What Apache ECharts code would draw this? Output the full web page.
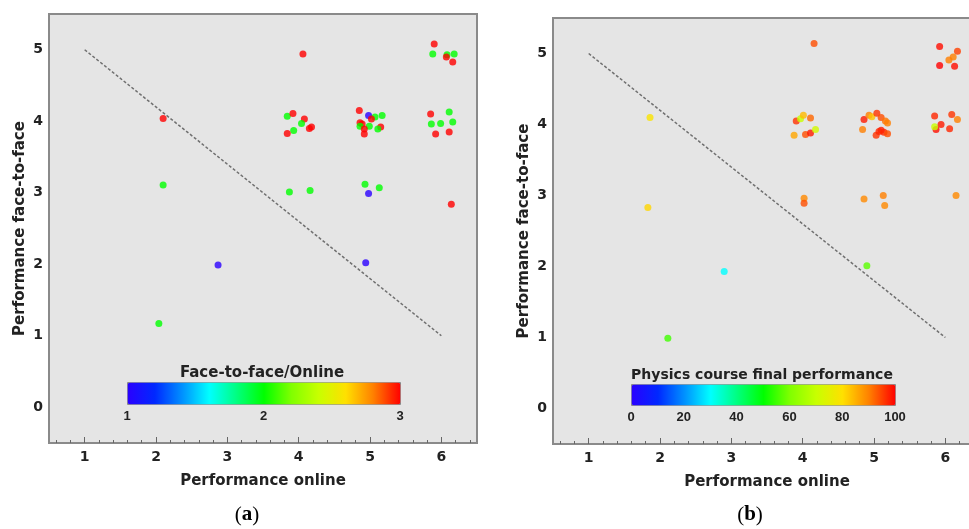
<!DOCTYPE html>
<html>
<head>
<meta charset="utf-8">
<title>Performance online vs face-to-face</title>
<script src="https://cdn.jsdelivr.net/npm/echarts@6.0.0/dist/echarts.min.js"></script>
<style>
  html, body { margin: 0; padding: 0; background: #fff; }
  #chart { width: 969px; height: 529px; }
</style>
</head>
<body>
<div id="chart"></div>
<script>
// (a) points: online, face-to-face, ratio face-to-face/online (1..3)
const leftOnline = [4.06, 5.90, 5.88, 6.08, 6.07, 6.18, 6.16,
  3.84, 3.92, 4.08, 4.04, 4.15, 4.18, 3.93, 3.84,
  4.85, 4.98, 5.07, 5.17, 5.02, 4.86, 4.89, 4.86, 4.99, 4.92, 4.92, 5.15, 5.11,
  5.85, 6.11, 5.86, 5.99, 6.16, 5.92, 6.11,
  3.87, 4.16, 4.93, 5.13, 4.98, 6.14,
  2.10, 2.10, 2.87, 2.04, 4.94]
const leftF2F = [4.94, 5.08, 4.94, 4.93, 4.90, 4.94, 4.83,
  4.07, 4.11, 4.03, 3.97, 3.90, 3.92, 3.87, 3.83,
  4.15, 4.08, 4.06, 4.08, 4.03, 3.98, 3.96, 3.93, 3.93, 3.89, 3.82, 3.92, 3.89,
  4.10, 4.13, 3.96, 3.97, 3.99, 3.82, 3.85,
  3.01, 3.03, 3.12, 3.07, 2.99, 2.84,
  4.04, 3.11, 1.99, 1.17, 2.02]
const leftRatio = [3, 3, 2, 2, 3, 2, 3,
  2, 3, 3, 2, 3, 3, 2, 3,
  3, 1, 2, 2, 3, 3, 3, 2, 2, 3, 3, 3, 2,
  3, 2, 2, 2, 2, 3, 3,
  2, 2, 2, 2, 1, 3,
  3, 2, 1, 2, 1]

// (b) points: online, face-to-face, physics final performance (0..100)
const rightOnline = [4.16, 5.92, 6.17, 6.11, 6.05, 5.92, 6.13,
  3.91, 3.97, 4.01, 4.11, 3.88, 4.04, 4.11, 4.18,
  4.86, 4.93, 4.97, 5.04, 5.10, 5.16, 5.19, 4.84, 5.10, 5.14, 5.03, 5.19, 5.07,
  5.85, 6.09, 6.17, 5.87, 5.85, 5.94, 6.06,
  4.02, 4.02, 4.86, 5.13, 5.15, 6.15,
  1.86, 1.83, 2.90, 2.11, 4.90]
const rightF2F = [5.14, 5.10, 5.03, 4.95, 4.91, 4.83, 4.82,
  4.05, 4.08, 4.13, 4.09, 3.85, 3.86, 3.88, 3.93,
  4.07, 4.13, 4.11, 4.16, 4.10, 4.05, 4.02, 3.93, 3.92, 3.89, 3.85, 3.87, 3.90,
  4.12, 4.14, 4.07, 3.93, 3.97, 4.00, 3.94,
  2.96, 2.89, 2.95, 3.00, 2.86, 3.00,
  4.10, 2.83, 1.93, 0.99, 2.01]
const rightFinal = [94, 99, 95, 90, 90, 100, 99,
  96, 70, 84, 92, 86, 94, 98, 72,
  98, 90, 83, 96, 94, 91, 90, 90, 98, 97, 96, 94, 97,
  97, 96, 90, 99, 70, 98, 97,
  89, 94, 89, 90, 89, 89,
  79, 81, 30, 55, 57]

// reference line from (1,5) to (6,1)
const diagLine = [[1, 5], [6, 1]]

const axisTicks = [1, 2, 3, 4, 5, 6]
const yTicks = [0, 1, 2, 3, 4, 5]
const minorTicks = []
for (let i = 3; i <= 32; i++) {
  if (i % 5 !== 0) minorTicks.push(Math.round(i * 20) / 100)
}
const ratioTicks = [1, 2, 3]
const finalTicks = [0, 20, 40, 60, 80, 100]

const jet = ['#2a00ff', '#0028ff', '#0090ff', '#00ffff', '#00ff80', '#00ff00',
  '#80ff00', '#c8ff00', '#ffe000', '#ff8000', '#ff0000']

const ink = '#222'
const font = 'DejaVu Sans'

const chart = echarts.init(document.getElementById('chart'))

function mainX(grid) {
  return {
    type: 'value', gridIndex: grid, min: 0.5, max: 6.5,
    axisLine: { show: false, onZero: false },
    splitLine: { show: false },
    axisTick: { inside: true, length: 6, customValues: axisTicks, lineStyle: { color: '#666', width: 1 } },
    axisLabel: { customValues: axisTicks, margin: 7, color: ink, fontWeight: 'bold', fontSize: 14, fontFamily: font },
    name: 'Performance online', nameLocation: 'middle', nameGap: 31,
    nameTextStyle: { color: ink, fontWeight: 'bold', fontSize: 15, fontFamily: font }
  }
}
function minorX(grid) {
  return {
    type: 'value', gridIndex: grid, min: 0.5, max: 6.5,
    axisLine: { show: false, onZero: false }, splitLine: { show: false },
    axisLabel: { show: false },
    axisTick: { inside: true, length: 3, customValues: minorTicks, lineStyle: { color: '#666', width: 1 } }
  }
}
function mainY(grid) {
  return {
    type: 'value', gridIndex: grid, min: -0.5, max: 5.5,
    axisLine: { show: false, onZero: false }, splitLine: { show: false },
    axisTick: { show: false },
    axisLabel: { customValues: yTicks, margin: 6, color: ink, fontWeight: 'bold', fontSize: 14, fontFamily: font },
    name: 'Performance face-to-face', nameLocation: 'middle', nameGap: 21,
    nameTextStyle: { color: ink, fontWeight: 'bold', fontSize: 15, fontFamily: font }
  }
}
function hiddenY(grid) {
  return { type: 'value', gridIndex: grid, min: 0, max: 1, show: false }
}
function barX(grid, lo, hi, ticks, inner) {
  return {
    type: 'value', gridIndex: grid, min: lo, max: hi,
    axisLine: { show: false, onZero: false }, splitLine: { show: false },
    axisTick: { inside: true, length: 3, customValues: inner, lineStyle: { color: '#555' } },
    axisLabel: { customValues: ticks, margin: 6, color: ink, fontWeight: 'bold', fontSize: 13, fontFamily: 'Liberation Sans' }
  }
}

// panel (b) runs past the right edge of the page, as in the source figure
const plotFrame = { show: true, backgroundColor: '#e5e5e5', borderColor: '#8a8a8a', borderWidth: 2 }
const free = { outerBoundsMode: 'none' }

chart.setOption({
  animation: false,
  grid: [
    Object.assign({ left: 49, top: 14, width: 428, height: 429 }, plotFrame, free),
    Object.assign({ left: 553, top: 18, width: 428, height: 426 }, plotFrame, free),
    Object.assign({ left: 49, top: 14, width: 428, height: 429 }, free),
    Object.assign({ left: 553, top: 18, width: 428, height: 426 }, free),
    Object.assign({ left: 127, top: 382, width: 273, height: 22 }, free),
    Object.assign({ left: 631, top: 384, width: 264, height: 21 }, free)
  ],
  xAxis: [
    mainX(0), mainX(1), minorX(2), minorX(3),
    barX(4, 1, 3, ratioTicks, [2]),
    barX(5, 0, 100, finalTicks, [20, 40, 60, 80])
  ],
  yAxis: [mainY(0), mainY(1), hiddenY(2), hiddenY(3), hiddenY(4), hiddenY(5)],
  visualMap: [
    {
      type: 'continuous', seriesIndex: 1, dimension: 2, min: 1, max: 3,
      orient: 'horizontal', left: 127, top: 382, itemWidth: 22, itemHeight: 273,
      padding: 0, calculable: false, text: null, hoverLink: false,
      borderColor: '#888', borderWidth: 1,
      inRange: { color: jet }
    },
    {
      type: 'continuous', seriesIndex: 3, dimension: 2, min: 0, max: 100,
      orient: 'horizontal', left: 631, top: 384, itemWidth: 21, itemHeight: 264,
      padding: 0, calculable: false, text: null, hoverLink: false,
      borderColor: '#888', borderWidth: 1,
      inRange: { color: jet }
    }
  ],
  series: [
    {
      type: 'line', xAxisIndex: 0, yAxisIndex: 0, data: diagLine, symbol: 'none',
      lineStyle: { color: '#707070', width: 1.5, type: [3, 2] }, silent: true
    },
    {
      type: 'scatter', xAxisIndex: 0, yAxisIndex: 0, symbolSize: 7,
      data: leftOnline.map((x, i) => [x, leftF2F[i], leftRatio[i]])
    },
    {
      type: 'line', xAxisIndex: 1, yAxisIndex: 1, data: diagLine, symbol: 'none',
      lineStyle: { color: '#707070', width: 1.5, type: [3, 2] }, silent: true
    },
    {
      type: 'scatter', xAxisIndex: 1, yAxisIndex: 1, symbolSize: 7,
      data: rightOnline.map((x, i) => [x, rightF2F[i], rightFinal[i]])
    }
  ],
  graphic: [
    {
      type: 'text', x: 262, y: 373, z: 10,
      style: { text: 'Face-to-face/Online', textAlign: 'center', textVerticalAlign: 'middle',
        font: 'bold 15px "DejaVu Sans"', fill: ink }
    },
    {
      type: 'text', x: 762, y: 375, z: 10,
      style: { text: 'Physics course final performance', textAlign: 'center', textVerticalAlign: 'middle',
        font: 'bold 14px "DejaVu Sans"', fill: ink }
    },
    {
      type: 'text', x: 247, y: 515,
      style: { text: '{p|(}{b|a}{p|)}', textAlign: 'center', textVerticalAlign: 'middle',
        rich: { p: { fontFamily: 'Liberation Serif', fontSize: 21, fill: '#000' },
                b: { fontFamily: 'Liberation Serif', fontSize: 21, fontWeight: 'bold', fill: '#000' } } }
    },
    {
      type: 'text', x: 750, y: 515,
      style: { text: '{p|(}{b|b}{p|)}', textAlign: 'center', textVerticalAlign: 'middle',
        rich: { p: { fontFamily: 'Liberation Serif', fontSize: 21, fill: '#000' },
                b: { fontFamily: 'Liberation Serif', fontSize: 21, fontWeight: 'bold', fill: '#000' } } }
    }
  ]
})
</script>
</body>
</html>
